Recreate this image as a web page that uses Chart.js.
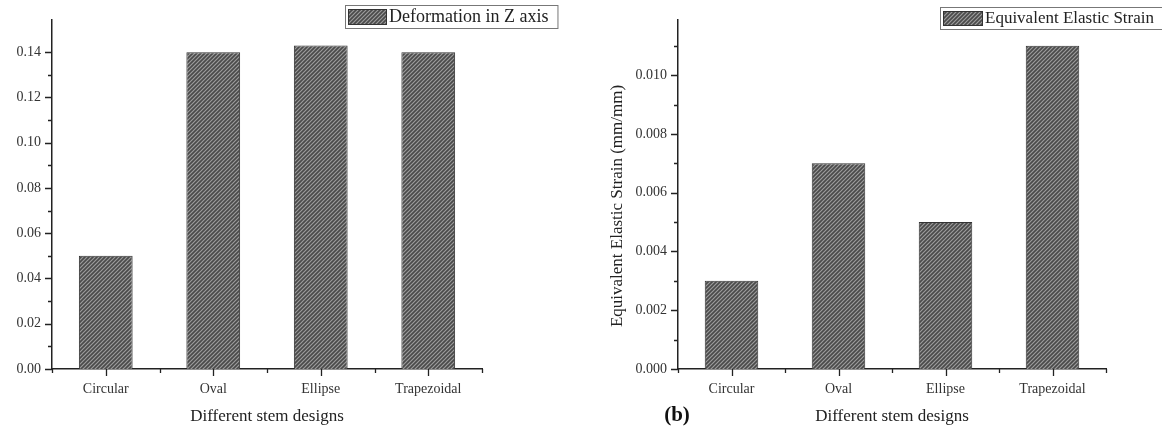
<!DOCTYPE html>
<html>
<head>
<meta charset="utf-8">
<script src="https://cdn.jsdelivr.net/npm/chart.js@4/dist/chart.umd.min.js"></script>
<style>
body { margin: 0; background: #fff; }
#wrap { display: flex; width: 1162px; height: 427px; }
canvas { display: block; }
</style>
</head>
<body>
<div id="wrap">
  <canvas id="left-chart" width="580" height="427"></canvas>
  <canvas id="right-chart" width="582" height="427"></canvas>
</div>
<script>
var designs = ["Circular", "Oval", "Ellipse", "Trapezoidal"];
var deformationZ = [0.05, 0.14, 0.143, 0.14];
var elasticStrain = [0.003, 0.007, 0.005, 0.011];

var FONT = "'Liberation Serif', 'Times New Roman', serif";
Chart.defaults.font.family = FONT;
Chart.defaults.color = "#333";

function hatch(ctx) {
  var c = document.createElement("canvas");
  c.width = 4; c.height = 4;
  var g = c.getContext("2d");
  g.fillStyle = "#4a4a4a";
  g.fillRect(0, 0, 4, 4);
  g.strokeStyle = "#9c9c9c";
  g.lineWidth = 1.2;
  g.beginPath();
  g.moveTo(0, 4); g.lineTo(4, 0);
  g.moveTo(-1, 1); g.lineTo(1, -1);
  g.moveTo(3, 5); g.lineTo(5, 3);
  g.stroke();
  return ctx.createPattern(c, "repeat");
}

// origin-style ticks: major + minor on y, centre + boundary ticks on x
var originTicks = {
  id: "originTicks",
  afterDraw: function (chart, args, opts) {
    var ctx = chart.ctx, a = chart.chartArea;
    var x = chart.scales.x, y = chart.scales.y;
    ctx.save();
    ctx.strokeStyle = "#222";
    ctx.lineWidth = 1.3;
    ctx.beginPath();
    y.ticks.forEach(function (t) {
      var k = Math.round(t.value / opts.step);
      if (Math.abs(t.value / opts.step - k) > 1e-6) return;
      var len = k % 2 === 0 ? 7 : 4;
      var py = Math.round(y.getPixelForValue(t.value)) + 0.5;
      ctx.moveTo(a.left, py); ctx.lineTo(a.left - len, py);
    });
    for (var i = 0; i < designs.length; i++) {
      var px = Math.round(x.getPixelForValue(i)) + 0.5;
      ctx.moveTo(px, a.bottom); ctx.lineTo(px, a.bottom + 7);
    }
    for (var j = 0; j <= designs.length; j++) {
      var qx = Math.round(x.getPixelForValue(j - 0.5)) + 0.5;
      ctx.moveTo(qx, a.bottom); ctx.lineTo(qx, a.bottom + 4);
    }
    ctx.stroke();
    ctx.restore();
  }
};

// framed legend box with hatched swatch, plus panel tag / y title
var boxLegend = {
  id: "boxLegend",
  afterDraw: function (chart, args, opts) {
    var ctx = chart.ctx;
    var ds = chart.data.datasets[0];
    ctx.save();
    ctx.font = opts.size + "px " + FONT;
    var tw = ctx.measureText(ds.label).width;
    var w = opts.swatch + 6 + tw + 8;
    ctx.fillStyle = "#fff";
    ctx.fillRect(opts.x, opts.y, w, opts.h);
    ctx.strokeStyle = "#777";
    ctx.lineWidth = 1;
    ctx.strokeRect(opts.x + 0.5, opts.y + 0.5, w, opts.h);
    ctx.fillStyle = ds.backgroundColor;
    ctx.fillRect(opts.x + 3, opts.y + 4, opts.swatch, opts.h - 7);
    ctx.strokeStyle = "#333";
    ctx.strokeRect(opts.x + 3.5, opts.y + 4.5, opts.swatch - 1, opts.h - 8);
    ctx.fillStyle = "#222";
    ctx.textBaseline = "middle";
    ctx.fillText(ds.label, opts.x + opts.swatch + 5, opts.y + opts.h / 2 + 1);
    if (opts.tag) {
      ctx.font = "bold 21px " + FONT;
      ctx.textAlign = "center";
      ctx.fillStyle = "#111";
      ctx.fillText(opts.tag, opts.tagX, opts.tagY);
    }
    if (opts.yTitle) {
      ctx.translate(opts.yTitleX, opts.yTitleY);
      ctx.rotate(-Math.PI / 2);
      ctx.font = "17px " + FONT;
      ctx.textAlign = "center";
      ctx.fillStyle = "#222";
      ctx.fillText(opts.yTitle, 0, 0);
    }
    ctx.restore();
  }
};

function makeChart(id, label, values, yMax, step, decimals, yWidth, padRight, legendOpts) {
  var canvas = document.getElementById(id);
  var ctx = canvas.getContext("2d");
  return new Chart(ctx, {
    type: "bar",
    data: {
      labels: designs,
      datasets: [{
        label: label,
        data: values,
        backgroundColor: hatch(ctx),
        borderColor: "#333",
        borderWidth: 1,
        barPercentage: 0.5,
        categoryPercentage: 1.0
      }]
    },
    options: {
      responsive: false,
      animation: false,
      devicePixelRatio: 1,
      layout: { padding: { top: 18, right: padRight, left: 0, bottom: 0 } },
      plugins: {
        legend: { display: false },
        tooltip: { enabled: false },
        originTicks: { step: step },
        boxLegend: legendOpts
      },
      scales: {
        x: {
          grid: { display: false, drawTicks: false },
          border: { display: true, color: "#222", width: 1.5 },
          ticks: { font: { size: 14 }, padding: 12, maxRotation: 0 },
          title: { display: true, text: "Different stem designs", font: { size: 17 }, color: "#222", padding: { top: 0, bottom: 0 } },
          afterFit: function (s) { s.height = 58; }
        },
        y: {
          min: 0,
          max: yMax,
          grid: { display: false, drawTicks: false },
          border: { display: true, color: "#222", width: 1.5 },
          ticks: {
            stepSize: step,
            padding: 11,
            font: { size: 14 },
            callback: function (v) {
              var k = Math.round(v / (2 * step));
              if (Math.abs(v / (2 * step) - k) > 1e-6) return "";
              return Number(v).toFixed(decimals);
            }
          },
          afterFit: function (s) { s.width = yWidth; }
        }
      }
    },
    plugins: [originTicks, boxLegend]
  });
}

makeChart("left-chart", "Deformation in Z axis", deformationZ, 0.1545, 0.01, 2, 52, 98,
  { x: 345, y: 5, h: 23, swatch: 39, size: 18 });
makeChart("right-chart", "Equivalent Elastic Strain", elasticStrain, 0.0119, 0.001, 3, 98, 56,
  { x: 360, y: 7, h: 22, swatch: 40, size: 17, tag: "(b)", tagX: 97, tagY: 416,
    yTitle: "Equivalent Elastic Strain (mm/mm)", yTitleX: 38, yTitleY: 206 });
</script>
</body>
</html>
